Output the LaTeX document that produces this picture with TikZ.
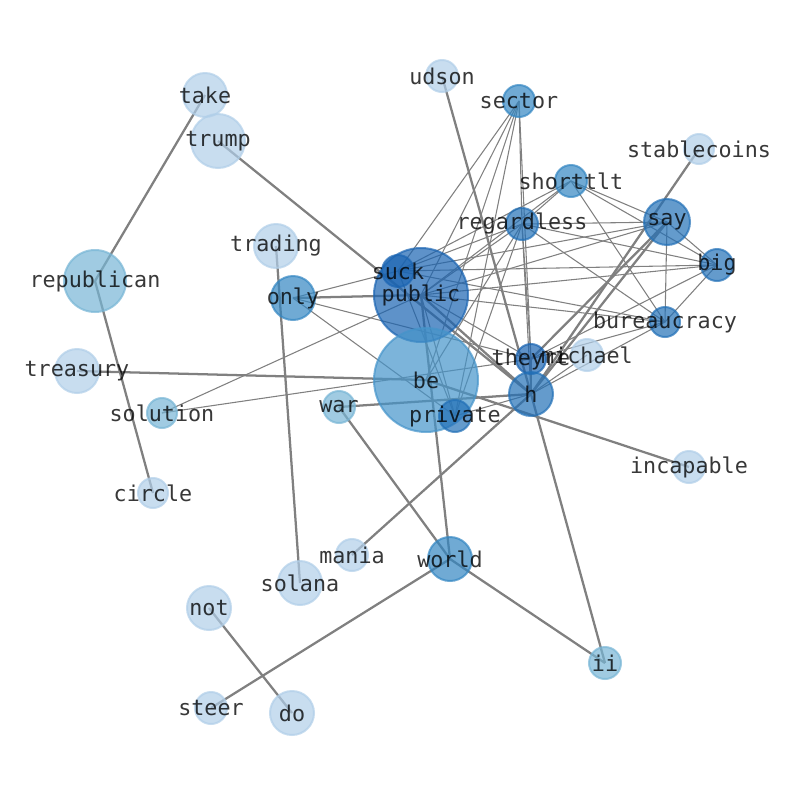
\documentclass[tikz,border=0pt]{standalone}
\usepackage{fontspec}
\setmonofont{DejaVu Sans Mono}
\definecolor{lite}{RGB}{176,206,232}
\definecolor{pale}{RGB}{119,181,213}
\definecolor{bemid}{RGB}{69,148,202}
\definecolor{mid}{RGB}{51,134,194}
\definecolor{deep}{RGB}{34,112,183}
\definecolor{dark}{RGB}{26,100,178}
\tikzset{
  edge/.style={draw=black!50, line width=.8pt},
  heavy/.style={draw=black!50, line width=1.7pt},
  blob/.style={line width=1.5pt, opacity=.7},
  word/.style={font=\ttfamily\fontsize{16.3}{19}\selectfont, text=black, text opacity=.78, inner sep=0pt}
}
\begin{document}
\begin{tikzpicture}[x=.75pt,y=-.75pt]
  \useasboundingbox (0,0) rectangle (794,790);
  \def\words{udson/442/76/16/lite, take/205/95/22/lite, trump/218/141/27/lite,
    sector/519/101/16/mid, stablecoins/699/149/15/lite, shorttlt/571/181/16/mid,
    regardless/522/224/16/deep, say/667/222/23/deep, big/717/265/16/deep,
    trading/276/246/22/lite, republican/95/281/31/pale, public/421/295/47/dark,
    suck/398/271/16/dark, only/293/298/22/mid, bureaucracy/665/322/15/deep,
    michael/587/355/16/lite, theyre/531/359/15/dark, treasury/77/371/22/lite,
    be/426/380/52/bemid, h/531/394/22/deep, solution/162/413/15/pale,
    war/339/407/16/pale, private/455/416/16/deep, incapable/689/467/16/lite,
    circle/153/493/15/lite, mania/352/555/16/lite, world/450/559/22/mid,
    solana/300/583/22/lite, not/209/608/22/lite, ii/605/663/16/pale,
    steer/211/708/16/lite, do/292/713/22/lite}
  \foreach \n/\x/\y/\r/\c in \words
    \coordinate (\n) at (\x,\y);
  % thin links inside the cluster
  \foreach \a/\b in {sector/suck, sector/public, sector/private, sector/regardless,
      sector/theyre, sector/be, shorttlt/suck, shorttlt/public, shorttlt/regardless,
      shorttlt/say, shorttlt/big, shorttlt/bureaucracy, regardless/suck,
      regardless/public, regardless/say, regardless/big, regardless/bureaucracy,
      regardless/theyre, regardless/private, regardless/h, regardless/be,
      say/suck, say/public, say/big, say/bureaucracy, big/suck, big/public,
      big/bureaucracy, big/theyre, bureaucracy/public, bureaucracy/suck,
      bureaucracy/theyre, bureaucracy/h, public/private, public/theyre,
      suck/private, private/h, theyre/h, michael/h, only/suck, only/theyre,
      only/private, solution/public, solution/theyre}
    \draw[edge] (\a) -- (\b);
  % heavy links
  \foreach \a/\b in {take/republican, republican/circle, trump/h, udson/h, h/ii,
      only/public, trading/solana, treasury/be, be/incapable, war/h, war/world,
      world/public, world/steer, world/ii, not/do, mania/h, stablecoins/h,
      say/h, say/theyre, public/h}
    \draw[heavy] (\a) -- (\b);
  \foreach \n/\x/\y/\r/\c in \words
    \path[blob, fill=\c, draw=\c] (\n) circle[radius=\r];
  \foreach \n/\x/\y/\r/\c in \words
    \node[word] (\n-txt) at (\n) {\n};
\end{tikzpicture}
\end{document}
